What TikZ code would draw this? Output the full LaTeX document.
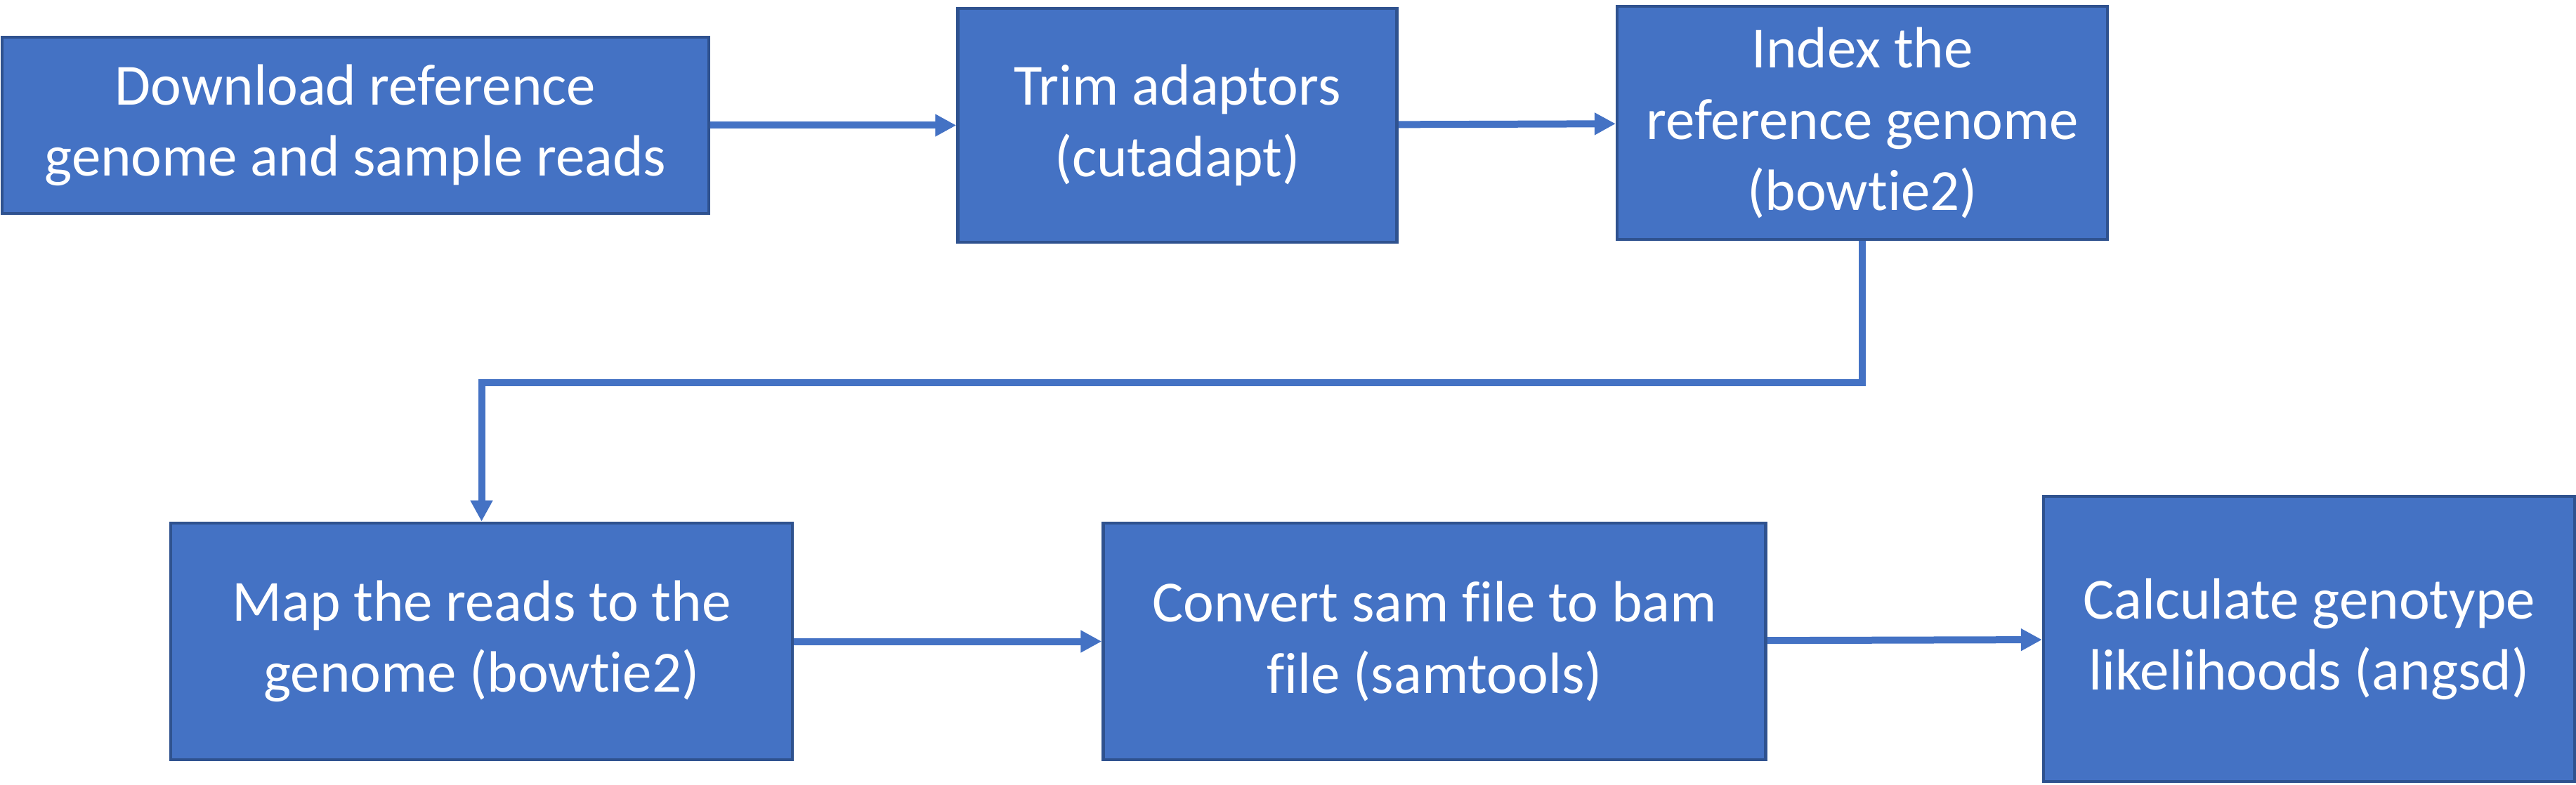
\documentclass[tikz,border=0pt]{standalone}
\usepackage{fontspec}
\setmainfont{Carlito}[Ligatures=CommonOff]
\usetikzlibrary{arrows.meta,positioning}
\definecolor{boxblue}{HTML}{4472C4}
\definecolor{boxedge}{HTML}{2F528F}

\begin{document}
\begin{tikzpicture}[->,>={Triangle[length=3mm,width=3mm]},line width=1mm,boxblue]

    \tikzstyle{stepbox}=[fill=boxblue,draw=boxedge,line width=1.3pt,text=white,align=center,inner sep=0pt,font=\fontsize{23.6}{28.8}\selectfont]

    \useasboundingbox (0,0) rectangle (36.67,11.17);

    % top row
    \node[stepbox, minimum width=10.06cm, minimum height=2.51cm] (download) at (5.06,9.385) {Download reference\\genome and sample reads};
    \node[stepbox, minimum width=6.25cm, minimum height=3.33cm]  (trim)  [right=3.5cm of download]  {Trim adaptors\\(cutadapt)};
    \node[stepbox, minimum width=6.98cm, minimum height=3.32cm]  (index) [right=3.09cm of trim, yshift=0.35mm] {Index the\\reference genome\\(bowtie2)};

    % bottom row
    \node[stepbox, minimum width=8.85cm, minimum height=3.37cm]  (map)     at (6.855,2.035)            {Map the reads to the\\genome (bowtie2)};
    \node[stepbox, minimum width=9.43cm, minimum height=3.37cm]  (convert) [right=4.38cm of map]     {Convert sam file to bam\\file (samtools)};
    \node[stepbox, minimum width=7.56cm, minimum height=4.06cm]  (calc)    [right=3.91cm of convert, yshift=0.35mm] {Calculate genotype\\likelihoods (angsd)};

    \path (download) edge (trim)
          (trim)     edge (index)
          (map)      edge (convert)
          (convert)  edge (calc)
    ;
    \draw (index.south) -- ++(0,-2.02) -| (map.north);
\end{tikzpicture}
\end{document}
